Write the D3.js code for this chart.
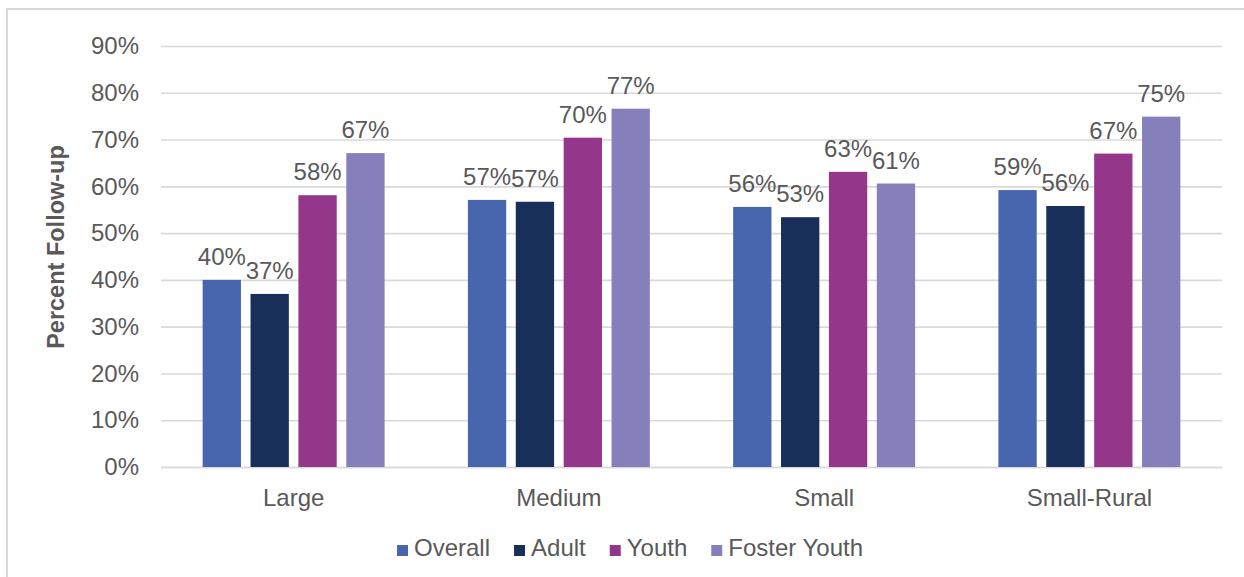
<!DOCTYPE html>
<html>
<head>
<meta charset="utf-8">
<script src="https://cdn.jsdelivr.net/npm/d3@7"></script>
<style>
  html, body { margin: 0; padding: 0; background: #ffffff; }
  svg { display: block; font-family: "Liberation Sans", Arial, sans-serif; }
</style>
</head>
<body>
<svg id="chart" width="1244" height="577"></svg>
<script>
// Follow-up rates by county size, split by population group
const categories = ["Large", "Medium", "Small", "Small-Rural"];
const seriesNames = ["Overall", "Adult", "Youth", "Foster Youth"];
const overall = [0.400, 0.571, 0.556, 0.592];
const adult = [0.370, 0.567, 0.534, 0.558];
const youth = [0.581, 0.704, 0.631, 0.670];
const fosterYouth = [0.671, 0.766, 0.606, 0.749];
const colors = ["#4866ad", "#172f59", "#943689", "#8580bc"];
const yTicks = [0, 0.1, 0.2, 0.3, 0.4, 0.5, 0.6, 0.7, 0.8, 0.9];
const yTitle = "Percent Follow-up";

const seriesValues = [overall, adult, youth, fosterYouth];
const rows = categories.map((c, i) => ({
  category: c,
  values: seriesNames.map((s, j) => ({ series: s, value: seriesValues[j][i], color: colors[j] }))
}));

const svg = d3.select("#chart");
const textColor = "#595959";
const gridColor = "#d9d9d9";
const fontSize = 24;

// Outer frame (left and top edges visible)
svg.append("rect")
  .attr("x", 7).attr("y", 9)
  .attr("width", 1300).attr("height", 700)
  .attr("fill", "none")
  .attr("stroke", gridColor)
  .attr("stroke-width", 2);

const plot = { left: 161, right: 1222, top: 46, bottom: 467 };

const x0 = d3.scaleBand()
  .domain(categories)
  .range([plot.left, plot.right])
  .paddingInner(0.314)
  .paddingOuter(0.157);

const x1 = d3.scaleBand()
  .domain(seriesNames)
  .range([0, x0.bandwidth()])
  .paddingInner(0.2);

const y = d3.scaleLinear()
  .domain([0, 0.9])
  .range([plot.bottom, plot.top]);

// Y axis with gridlines
const yAxis = svg.append("g")
  .attr("transform", `translate(${plot.left},0)`)
  .call(d3.axisLeft(y)
    .tickValues(yTicks)
    .tickFormat(d3.format(".0%"))
    .tickSize(-(plot.right - plot.left))
    .tickPadding(22));
yAxis.select(".domain").remove();
yAxis.selectAll(".tick line")
  .attr("stroke", gridColor)
  .attr("stroke-width", 1.6);
yAxis.selectAll(".tick text")
  .attr("fill", textColor)
  .style("font-size", fontSize + "px")
  .style("font-family", "Liberation Sans, Arial, sans-serif");

// X axis category labels
const xAxis = svg.append("g")
  .attr("transform", `translate(0,${plot.bottom})`)
  .call(d3.axisBottom(x0).tickSize(0).tickPadding(22));
xAxis.select(".domain")
  .attr("stroke", gridColor)
  .attr("stroke-width", 1.6);
xAxis.selectAll(".tick text")
  .attr("fill", textColor)
  .style("font-size", fontSize + "px")
  .style("font-family", "Liberation Sans, Arial, sans-serif");

// Bars
const groups = svg.append("g").selectAll("g")
  .data(rows)
  .join("g")
  .attr("transform", d => `translate(${x0(d.category)},0)`);

groups.selectAll("rect")
  .data(d => d.values)
  .join("rect")
  .attr("x", d => x1(d.series))
  .attr("y", d => y(d.value))
  .attr("width", x1.bandwidth())
  .attr("height", d => y(0) - y(d.value))
  .attr("fill", d => d.color);

// Value labels
groups.selectAll("text.value")
  .data(d => d.values)
  .join("text")
  .attr("class", "value")
  .attr("x", d => x1(d.series) + x1.bandwidth() / 2)
  .attr("y", d => y(d.value) - 15)
  .attr("text-anchor", "middle")
  .attr("fill", textColor)
  .style("font-size", fontSize + "px")
  .text(d => d3.format(".0%")(d.value));

// Y axis title
svg.append("text")
  .attr("transform", "translate(64,247) rotate(-90)")
  .attr("text-anchor", "middle")
  .attr("fill", textColor)
  .style("font-size", "23.5px")
  .style("font-weight", "bold")
  .text(yTitle);

// Legend
const legend = svg.append("g");
let lx = 397;
seriesNames.forEach((name, i) => {
  legend.append("rect")
    .attr("x", lx).attr("y", 545)
    .attr("width", 11).attr("height", 11)
    .attr("fill", colors[i]);
  const t = legend.append("text")
    .attr("x", lx + 17).attr("y", 556)
    .attr("fill", textColor)
    .style("font-size", fontSize + "px")
    .text(name);
  lx += 17 + t.node().getComputedTextLength() + 24;
});
</script>
</body>
</html>
